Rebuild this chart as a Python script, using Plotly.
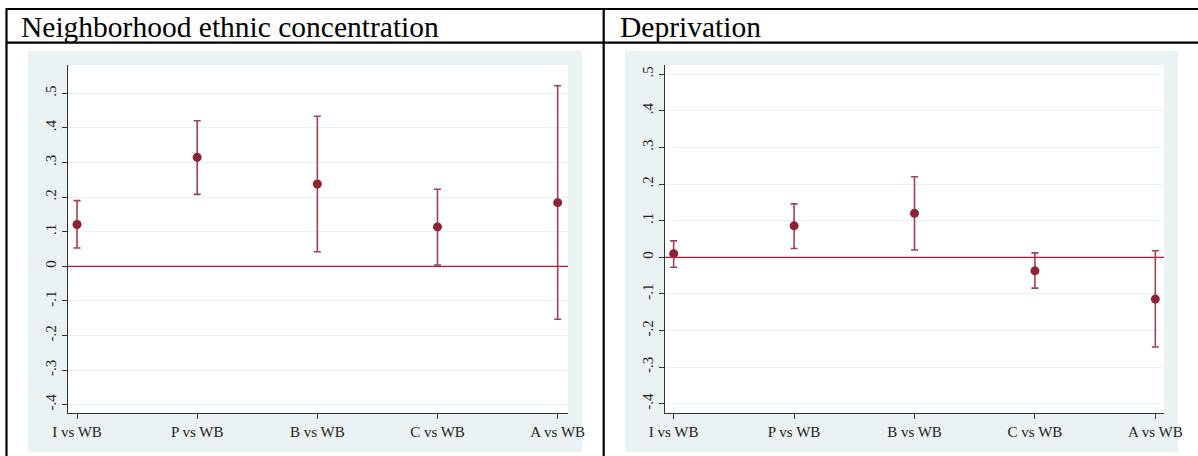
import plotly.graph_objects as go

W, H = 1198, 456

categories = ["I vs WB", "P vs WB", "B vs WB", "C vs WB", "A vs WB"]

# Panel 1: Neighborhood ethnic concentration
eth_est = [0.121, 0.315, 0.238, 0.114, 0.184]
eth_low = [0.053, 0.208, 0.042, 0.004, -0.153]
eth_high = [0.190, 0.421, 0.434, 0.223, 0.522]

# Panel 2: Deprivation
dep_est = [0.010, 0.086, 0.120, -0.037, -0.114]
dep_low = [-0.027, 0.024, 0.020, -0.084, -0.245]
dep_high = [0.045, 0.146, 0.220, 0.012, 0.018]

titles = ["Neighborhood ethnic concentration", "Deprivation"]

ytick_vals = [-0.4, -0.3, -0.2, -0.1, 0, 0.1, 0.2, 0.3, 0.4, 0.5]
ytick_text = ["-.4", "-.3", "-.2", "-.1", "0", ".1", ".2", ".3", ".4", ".5"]
ref_value = 0

MAROON = "#8B2332"
BAR = "rgba(139,35,50,0.85)"
BG = "#EAF2F3"
ZERO = "#C4143C"
FONT = "Liberation Serif"


def px(x):
    return x / W


def py(y):
    return 1 - y / H


fig = go.Figure()

panels = [
    dict(est=eth_est, low=eth_low, high=eth_high, xa="x", ya="y",
         dom=(68, 568), yr=(-0.424, 0.582), xr=(0.925, 5.086)),
    dict(est=dep_est, low=dep_low, high=dep_high, xa="x2", ya="y2",
         dom=(665, 1164), yr=(-0.425, 0.525), xr=(0.928, 5.072)),
]

xpos = list(range(1, len(categories) + 1))

for i, p in enumerate(panels):
    up = [h - e for h, e in zip(p["high"], p["est"])]
    dn = [e - l for e, l in zip(p["est"], p["low"])]
    fig.add_trace(go.Scatter(
        x=xpos, y=p["est"], mode="markers",
        marker=dict(color=MAROON, size=9),
        error_y=dict(type="data", array=up, arrayminus=dn, color=BAR,
                     thickness=1.6, width=3.5),
        xaxis=p["xa"], yaxis=p["ya"], showlegend=False,
    ))

layout_axes = {}
for i, p in enumerate(panels):
    sx = "xaxis" if i == 0 else "xaxis2"
    sy = "yaxis" if i == 0 else "yaxis2"
    layout_axes[sx] = dict(
        domain=[px(p["dom"][0]), px(p["dom"][1])],
        range=list(p["xr"]),
        tickvals=xpos, ticktext=categories,
        ticks="outside", ticklen=5, tickwidth=1, tickcolor="#333",
        showline=True, linecolor="#333", linewidth=1,
        showgrid=False, zeroline=False, automargin=False,
        tickfont=dict(family=FONT, size=15, color="#222"),
        anchor="y" if i == 0 else "y2",
        fixedrange=True,
    )
    layout_axes[sy] = dict(
        domain=[py(413), py(65)],
        range=list(p["yr"]),
        tickvals=ytick_vals, ticktext=ytick_text,
        tickangle=-90,
        ticks="outside", ticklen=5, tickwidth=1, tickcolor="#333",
        showline=True, linecolor="#333", linewidth=1,
        showgrid=True, gridcolor=BG, gridwidth=1,
        zeroline=False, automargin=False,
        tickfont=dict(family=FONT, size=15, color="#222"),
        anchor="x" if i == 0 else "x2",
        fixedrange=True,
    )

shapes = []
# light graph-region backgrounds
for (x0, x1) in [(28, 582), (625, 1178)]:
    shapes.append(dict(type="rect", xref="paper", yref="paper",
                       x0=px(x0), x1=px(x1), y0=py(452), y1=py(51),
                       fillcolor=BG, line=dict(width=0), layer="below"))
# white plot areas
for (x0, x1) in [(68, 568), (665, 1164)]:
    shapes.append(dict(type="rect", xref="paper", yref="paper",
                       x0=px(x0), x1=px(x1), y0=py(413), y1=py(65),
                       fillcolor="white", line=dict(width=0), layer="below"))
# reference line at zero in each panel
for xa, ya in [("x", "y"), ("x2", "y2")]:
    shapes.append(dict(type="line", xref=f"{xa} domain", yref=ya,
                       x0=0, x1=1, y0=ref_value, y1=ref_value,
                       line=dict(color=ZERO, width=1.3)))
# table borders
for y in [9, 42.7]:
    shapes.append(dict(type="line", xref="paper", yref="paper",
                       x0=px(6), x1=1, y0=py(y), y1=py(y),
                       line=dict(color="black", width=2.2)))
for x in [6.5, 603.7]:
    shapes.append(dict(type="line", xref="paper", yref="paper",
                       x0=px(x), x1=px(x), y0=py(8), y1=0,
                       line=dict(color="black", width=2.2)))

annotations = []
for t, x in zip(titles, [19, 618]):
    annotations.append(dict(text=t, xref="paper", yref="paper",
                            x=px(x), y=py(27), xanchor="left", yanchor="middle",
                            showarrow=False,
                            font=dict(family=FONT, size=29.5, color="black")))

fig.update_layout(
    width=W, height=H,
    margin=dict(l=0, r=0, t=0, b=0, autoexpand=False),
    paper_bgcolor="white", plot_bgcolor="white",
    shapes=shapes, annotations=annotations,
    **layout_axes,
)

fig.write_html("out.html", config={"displayModeBar": False})
